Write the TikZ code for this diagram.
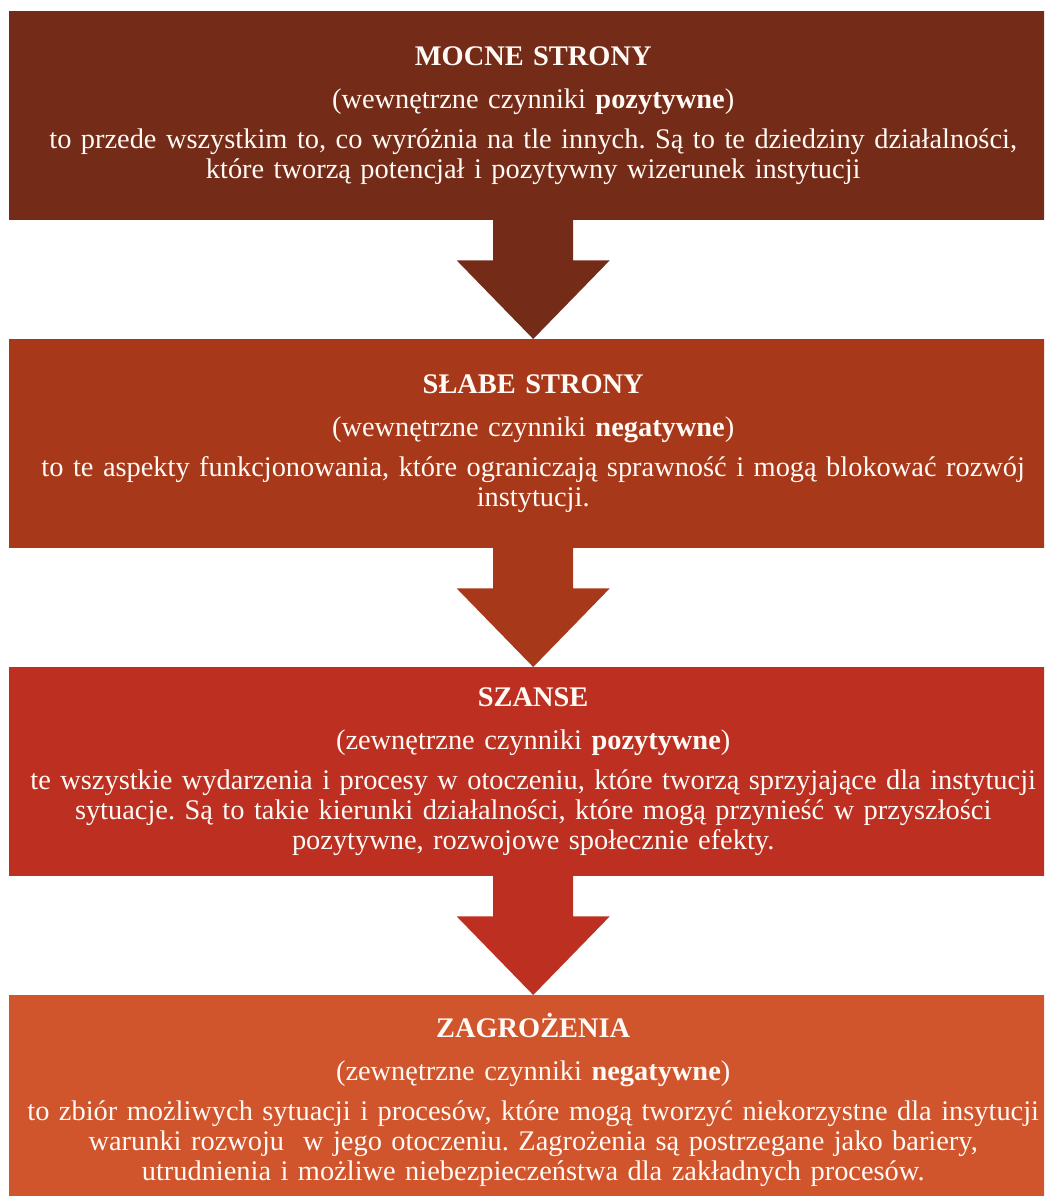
\documentclass[tikz,border=0pt]{standalone}
\usepackage{fontspec}
\setmainfont{Liberation Serif}
\usetikzlibrary{calc}
\definecolor{cA}{RGB}{116,44,25}
\definecolor{cB}{RGB}{168,56,26}
\definecolor{cC}{RGB}{189,48,33}
\definecolor{cD}{RGB}{208,84,44}
\definecolor{txt}{RGB}{255,250,245}
\begin{document}
\frenchspacing
\begin{tikzpicture}[x=1pt,y=-1pt,
  box/.style={rectangle, minimum width=1048pt, minimum height=209pt, inner sep=0pt,
    text=txt, align=center, text width=1044pt, anchor=north west,
    font=\fontsize{28.4}{30}\selectfont}]
\useasboundingbox (0,0) rectangle (1044,1196);
\clip (0,0) rectangle (1044,1196);
\fill[white] (0,0) rectangle (1044,1196);

\node[box, fill=cA] (b1) at (9,11) {{\bfseries MOCNE STRONY}\\[13pt]
(wewnętrzne czynniki \textbf{pozytywne})\\[10pt]
to przede wszystkim to, co wyróżnia na tle innych. Są to te dziedziny działalności,\\
które tworzą potencjał i pozytywny wizerunek instytucji};

\node[box, fill=cB] (b2) at (9,339) {{\bfseries SŁABE STRONY}\\[13pt]
(wewnętrzne czynniki \textbf{negatywne})\\[10pt]
to te aspekty funkcjonowania, które ograniczają sprawność i mogą blokować rozwój\\
instytucji.};

\node[box, fill=cC] (b3) at (9,667) {{\bfseries SZANSE}\\[13pt]
(zewnętrzne czynniki \textbf{pozytywne})\\[10pt]
te wszystkie wydarzenia i procesy w otoczeniu, które tworzą sprzyjające dla instytucji\\
sytuacje. Są to takie kierunki działalności, które mogą przynieść w przyszłości\\
pozytywne, rozwojowe społecznie efekty.};

\node[box, fill=cD] (b4) at (9,995) {{\bfseries ZAGROŻENIA}\\[13pt]
(zewnętrzne czynniki \textbf{negatywne})\\[10pt]
to zbiór możliwych sytuacji i procesów, które mogą tworzyć niekorzystne dla insytucji\\
warunki rozwoju\ \ w jego otoczeniu. Zagrożenia są postrzegane jako bariery,\\
utrudnienia i możliwe niebezpieczeństwa dla zakładnych procesów.};

\foreach \u/\v/\c in {b1/b2/cA, b2/b3/cB, b3/b4/cC}{
  \fill[\c] ($(\u.south)+(-40,-1)$) -- ($(\u.south)+(-40,40)$) -- ($(\u.south)+(-76.5,40)$)
    -- (\v.north) -- ($(\u.south)+(76.5,40)$) -- ($(\u.south)+(40,40)$)
    -- ($(\u.south)+(40,-1)$) -- cycle;
}
\end{tikzpicture}
\end{document}
